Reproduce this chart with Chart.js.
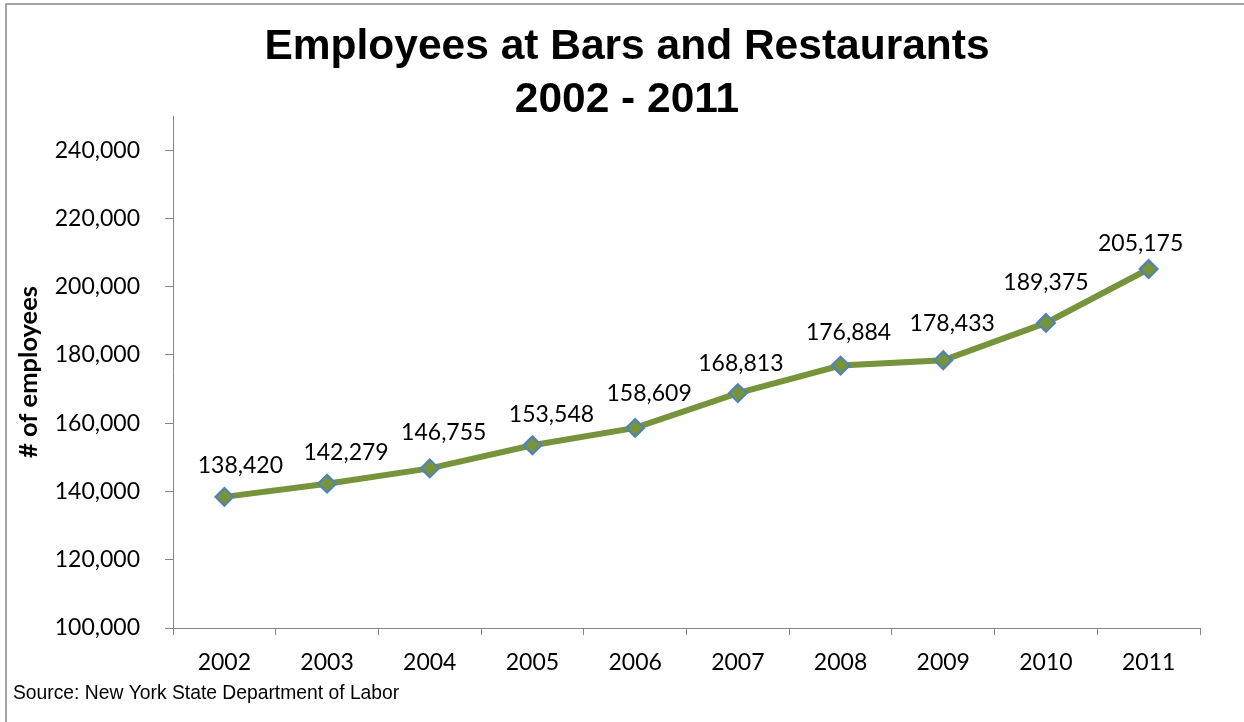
<!DOCTYPE html>
<html>
<head>
<meta charset="utf-8">
<title>Employees at Bars and Restaurants 2002 - 2011</title>
<script src="https://cdn.jsdelivr.net/npm/chart.js@4.4.1/dist/chart.umd.min.js"></script>
<style>
  html, body { margin: 0; padding: 0; background: #ffffff; }
  #wrap { width: 1244px; height: 722px; }
</style>
</head>
<body>
<div id="wrap"><canvas id="chart" width="1244" height="722"></canvas></div>
<script>
// Annual employment at bars and restaurants (New York State)
const years = ['2002', '2003', '2004', '2005', '2006', '2007', '2008', '2009', '2010', '2011'];
const employees = [138420, 142279, 146755, 153548, 158609, 168813, 176884, 178433, 189375, 205175];
const yTickValues = [100000, 120000, 140000, 160000, 180000, 200000, 220000, 240000];

const titleLines = ['Employees at Bars and Restaurants', '2002 - 2011'];
const yAxisTitle = '# of employees';
const sourceNote = 'Source: New York State Department of Labor';

// Small nudges [dx, dy] for each value label, relative to its marker
const labelNudge = [[16, -31], [19, -31], [14, -36], [19, -31], [14, -34],
                    [3, -30], [8, -33], [9, -37], [0, -40], [-8, -25]];

const GREEN = '#77933C';
const BLUE = '#4F81BD';
const AXIS = '#868686';
const fmt = v => Number(v).toLocaleString('en-US');

// Frame, title and source line drawn around the plot
const decorations = {
  id: 'decorations',
  beforeDraw(chart) {
    const ctx = chart.ctx;
    ctx.save();
    ctx.fillStyle = '#ffffff';
    ctx.fillRect(0, 0, chart.width, chart.height);
    ctx.strokeStyle = AXIS;
    ctx.lineWidth = 1.5;
    ctx.beginPath();
    ctx.moveTo(6, chart.height);
    ctx.lineTo(6, 4);
    ctx.lineTo(chart.width, 4);
    ctx.stroke();
    ctx.restore();
  },
  afterDraw(chart) {
    const ctx = chart.ctx;
    ctx.save();
    ctx.fillStyle = '#000000';
    ctx.textAlign = 'center';
    ctx.textBaseline = 'middle';
    ctx.font = 'bold 42.5px "Liberation Sans", Arial, sans-serif';
    ctx.fillText(titleLines[0], 627, 47);
    ctx.fillText(titleLines[1], 627, 100);
    ctx.textAlign = 'left';
    ctx.font = '19.3px "Liberation Sans", Arial, sans-serif';
    ctx.fillText(sourceNote, 13, 694);
    ctx.restore();
  }
};

// Value labels above each marker
const valueLabels = {
  id: 'valueLabels',
  afterDatasetsDraw(chart) {
    const ctx = chart.ctx;
    const meta = chart.getDatasetMeta(0);
    const data = chart.data.datasets[0].data;
    ctx.save();
    ctx.fillStyle = '#000000';
    ctx.font = '23px Lato, "Open Sans", sans-serif';
    ctx.textAlign = 'center';
    ctx.textBaseline = 'middle';
    meta.data.forEach((pt, i) => {
      const n = labelNudge[i] || [0, -30];
      ctx.fillText(fmt(data[i]), pt.x + n[0], pt.y + n[1]);
    });
    ctx.restore();
  }
};

new Chart(document.getElementById('chart'), {
  type: 'line',
  data: {
    labels: years,
    datasets: [{
      data: employees,
      borderColor: GREEN,
      borderWidth: 6,
      backgroundColor: GREEN,
      pointStyle: 'rectRot',
      pointRadius: 9,
      pointHoverRadius: 9,
      pointBackgroundColor: GREEN,
      pointBorderColor: BLUE,
      pointBorderWidth: 2,
      tension: 0,
      fill: false
    }]
  },
  options: {
    responsive: false,
    animation: false,
    events: [],
    layout: { padding: { left: 13, right: 44, top: 116, bottom: 0 } },
    plugins: {
      legend: { display: false },
      title: { display: false },
      tooltip: { enabled: false }
    },
    scales: {
      x: {
        type: 'category',
        offset: true,
        grid: {
          offset: true,
          drawOnChartArea: false,
          drawTicks: true,
          tickLength: 7,
          tickColor: AXIS,
          tickWidth: 1
        },
        border: { display: true, color: AXIS, width: 1 },
        ticks: {
          color: '#000000',
          font: { family: 'Lato', size: 23 },
          padding: 14,
          maxRotation: 0,
          autoSkip: false
        },
        afterFit(scale) { scale.height = 94; }
      },
      y: {
        min: 100000,
        max: 250000,
        afterBuildTicks(scale) {
          scale.ticks = yTickValues.map(v => ({ value: v }));
        },
        grid: {
          drawOnChartArea: false,
          drawTicks: true,
          tickLength: 8,
          tickColor: AXIS,
          tickWidth: 1
        },
        border: { display: true, color: AXIS, width: 1 },
        ticks: {
          color: '#000000',
          font: { family: 'Lato', size: 23 },
          padding: 25,
          callback: v => fmt(v)
        },
        title: {
          display: true,
          text: yAxisTitle,
          color: '#000000',
          font: { family: 'Lato', size: 25.5, weight: 'bold', lineHeight: 1.2 },
          padding: { top: 0, bottom: 0 }
        },
        afterFit(scale) { scale.width = 160; }
      }
    }
  },
  plugins: [decorations, valueLabels]
});
</script>
</body>
</html>
